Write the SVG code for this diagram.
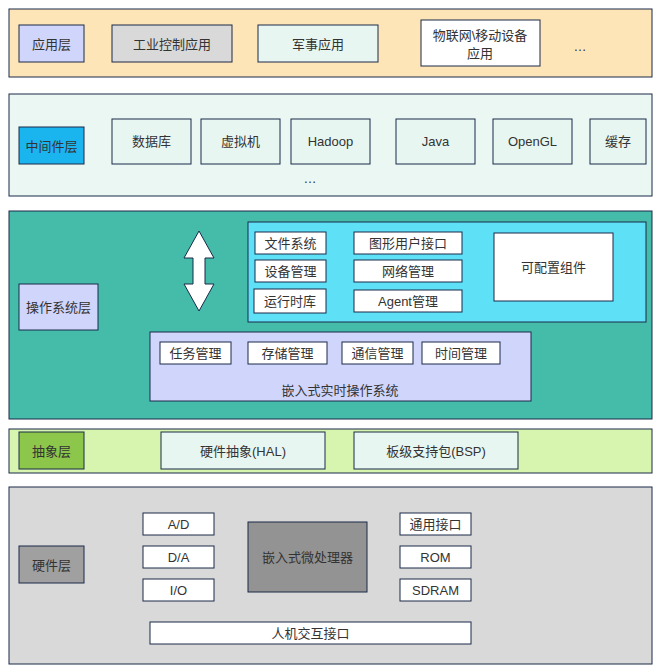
<svg xmlns="http://www.w3.org/2000/svg" width="664" height="670" viewBox="0 0 664 670">
<style>
rect{stroke:#1a2a4a;stroke-width:1}
text{font-family:"Liberation Sans","Noto Sans CJK SC",sans-serif;font-size:13px;fill:#333;text-anchor:middle;dominant-baseline:central}
.w{fill:#fff}.m{fill:#e8f6f1}.p{fill:#d0d5fb}
</style>
<rect width="664" height="670" fill="#fff" style="stroke:none"/>
<g id="app">
<rect x="9" y="9" width="643" height="68" fill="#fde5b7"/>
<rect x="19" y="25" width="65" height="37" class="p"/><text x="51.5" y="44">应用层</text>
<rect x="112" y="25" width="120" height="37" fill="#d9d9d9"/><text x="172" y="44">工业控制应用</text>
<rect x="258" y="25" width="120" height="37" class="m"/><text x="318" y="44">军事应用</text>
<rect x="421" y="20" width="119" height="46" class="w"/><text x="480" y="35">物联网\移动设备</text><text x="480" y="53">应用</text>
<text x="580" y="46">…</text>
</g>
<g id="mid">
<rect x="9" y="94" width="643" height="102" fill="#eaf7f3"/>
<rect x="19" y="127" width="65" height="37" fill="#1ab4ef"/><text x="51.5" y="146">中间件层</text>
<rect x="112" y="119" width="79" height="45" class="m"/><text x="151.5" y="141">数据库</text>
<rect x="201" y="119" width="79" height="45" class="m"/><text x="240.5" y="141">虚拟机</text>
<rect x="291" y="119" width="79" height="45" class="m"/><text x="330.5" y="141">Hadoop</text>
<rect x="396" y="119" width="79" height="45" class="m"/><text x="435.5" y="141">Java</text>
<rect x="493" y="119" width="79" height="45" class="m"/><text x="532.5" y="141">OpenGL</text>
<rect x="590" y="119" width="56" height="45" class="m"/><text x="618" y="141">缓存</text>
<text x="310" y="178">…</text>
</g>
<g id="os">
<rect x="9" y="211" width="643" height="208" fill="#45bbaa"/>
<rect x="19" y="284" width="79" height="46" class="p"/><text x="58.5" y="307">操作系统层</text>
<path d="M199 231 L214 258 L205 258 L205 284 L214 284 L199 311 L184 284 L193 284 L193 258 L184 258 Z" fill="#fff" stroke="#1a2a4a"/>
<rect x="248" y="222" width="398" height="100" fill="#5ee1f7"/>
<rect x="255" y="232" width="71" height="22" class="w"/><text x="290.5" y="243">文件系统</text>
<rect x="255" y="260" width="71" height="22" class="w"/><text x="290.5" y="271">设备管理</text>
<rect x="254" y="289" width="72" height="24" class="w"/><text x="290" y="301">运行时库</text>
<rect x="354" y="232" width="108" height="22" class="w"/><text x="408" y="243">图形用户接口</text>
<rect x="354" y="260" width="108" height="22" class="w"/><text x="408" y="271">网络管理</text>
<rect x="354" y="290" width="108" height="22" class="w"/><text x="408" y="301">Agent管理</text>
<rect x="494" y="233" width="119" height="68" class="w"/><text x="553.5" y="267">可配置组件</text>
<rect x="150" y="332" width="381" height="69" class="p"/>
<rect x="160" y="342" width="71" height="22" class="w"/><text x="195.5" y="353">任务管理</text>
<rect x="248" y="342" width="79" height="22" class="w"/><text x="287.5" y="353">存储管理</text>
<rect x="342" y="342" width="71" height="22" class="w"/><text x="377.5" y="353">通信管理</text>
<rect x="422" y="342" width="78" height="22" class="w"/><text x="461" y="353">时间管理</text>
<text x="340" y="390">嵌入式实时操作系统</text>
</g>
<g id="hal">
<rect x="9" y="429" width="643" height="44" fill="#d7f5ae"/>
<rect x="19" y="432" width="65" height="37" fill="#8cc64b"/><text x="51.5" y="451">抽象层</text>
<rect x="161" y="432" width="164" height="37" class="m"/><text x="243" y="451">硬件抽象(HAL)</text>
<rect x="354" y="432" width="164" height="37" class="m"/><text x="436" y="451">板级支持包(BSP)</text>
</g>
<g id="hw">
<rect x="9" y="487" width="643" height="177" fill="#d9d9d9"/>
<rect x="19" y="546" width="65" height="37" fill="#a0a0a0"/><text x="51.5" y="565">硬件层</text>
<rect x="143" y="513" width="71" height="22" class="w"/><text x="178.5" y="524">A/D</text>
<rect x="143" y="546" width="71" height="22" class="w"/><text x="178.5" y="557">D/A</text>
<rect x="143" y="579" width="71" height="22" class="w"/><text x="178.5" y="590">I/O</text>
<rect x="248" y="522" width="119" height="70" fill="#939393"/><text x="307.5" y="557">嵌入式微处理器</text>
<rect x="400" y="513" width="71" height="22" class="w"/><text x="435.5" y="524">通用接口</text>
<rect x="400" y="546" width="71" height="22" class="w"/><text x="435.5" y="557">ROM</text>
<rect x="400" y="579" width="71" height="22" class="w"/><text x="435.5" y="590">SDRAM</text>
<rect x="150" y="622" width="321" height="22" class="w"/><text x="310.5" y="633">人机交互接口</text>
</g>
<g id="connectors"></g>
</svg>
